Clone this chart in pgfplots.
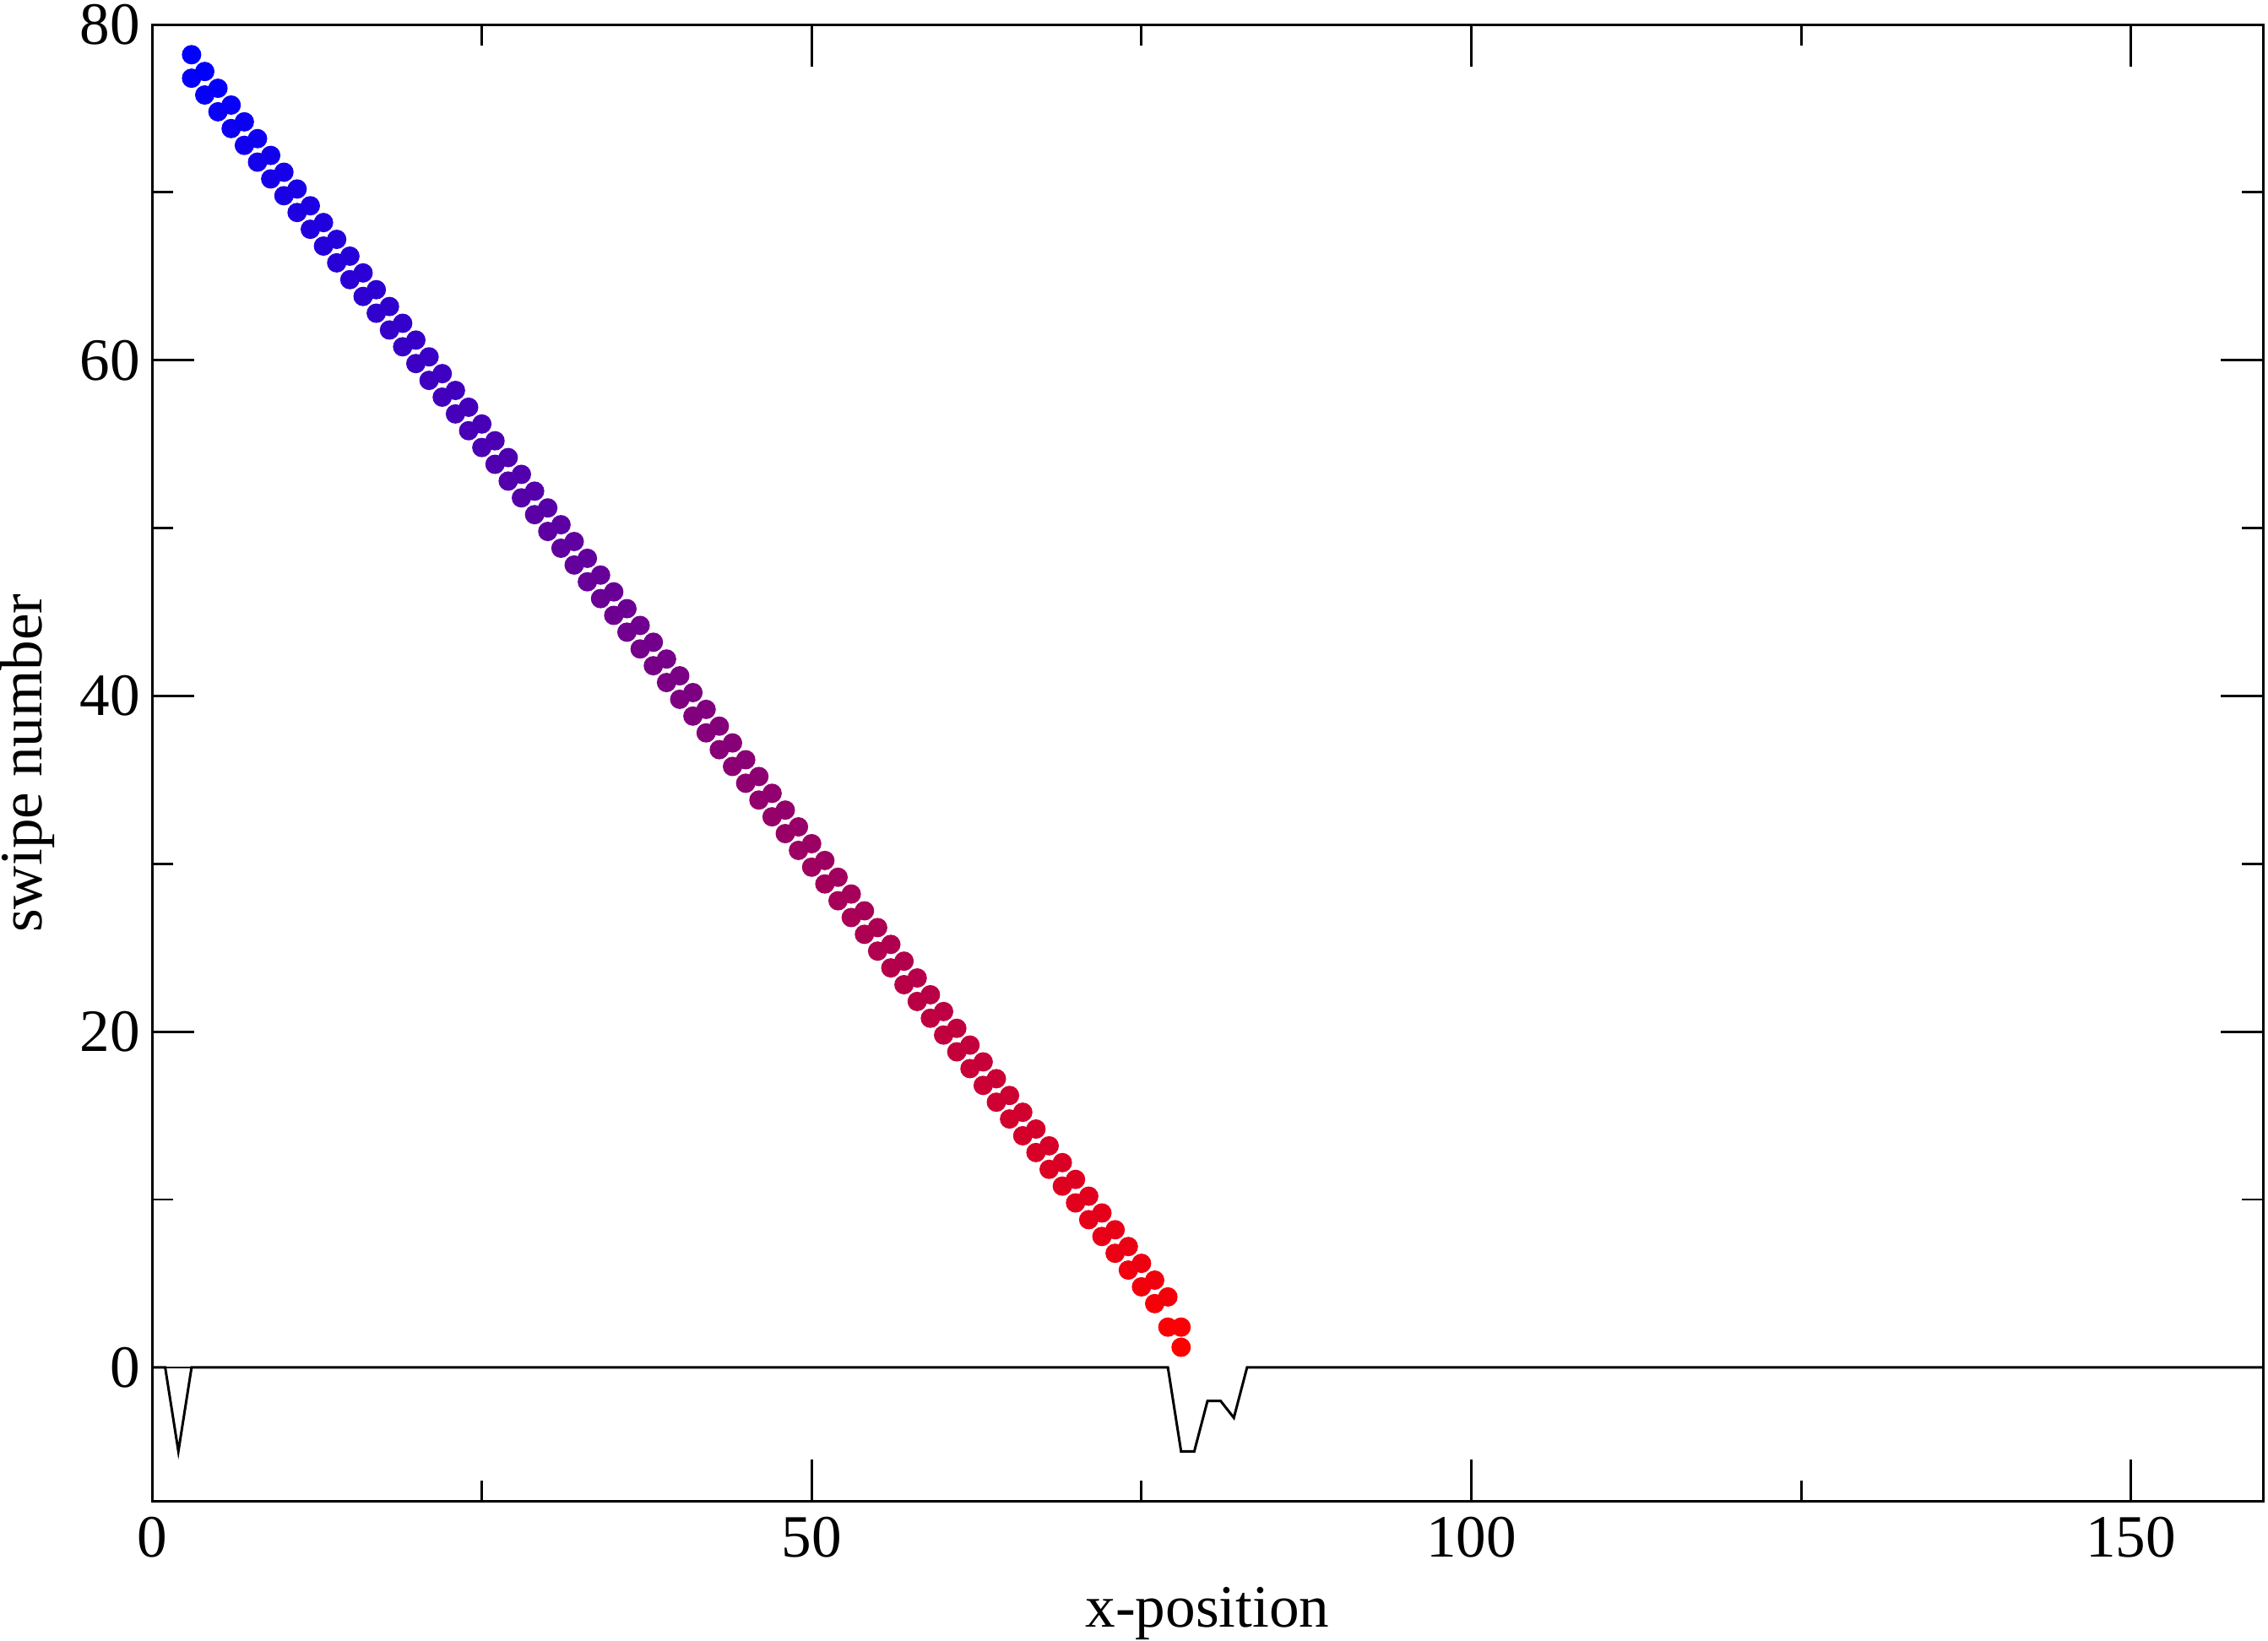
\documentclass[border=0pt]{standalone}
\usepackage{fontspec}
\setmainfont{Liberation Serif}
\usepackage{pgfplots}
\usepackage{pgfplotstable}
\pgfplotsset{compat=1.18}

% swipe data: two points per x column
\pgfplotstableread{
x y
3 78.2
3 76.8
4 77.2
4 75.8
5 76.2
5 74.8
6 75.2
6 73.8
7 74.2
7 72.8
8 73.2
8 71.8
9 72.2
9 70.8
10 71.2
10 69.8
11 70.2
11 68.8
12 69.2
12 67.8
13 68.2
13 66.8
14 67.2
14 65.8
15 66.2
15 64.8
16 65.2
16 63.8
17 64.2
17 62.8
18 63.2
18 61.8
19 62.2
19 60.8
20 61.2
20 59.8
21 60.2
21 58.8
22 59.2
22 57.8
23 58.2
23 56.8
24 57.2
24 55.8
25 56.2
25 54.8
26 55.2
26 53.8
27 54.2
27 52.8
28 53.2
28 51.8
29 52.2
29 50.8
30 51.2
30 49.8
31 50.2
31 48.8
32 49.2
32 47.8
33 48.2
33 46.8
34 47.2
34 45.8
35 46.2
35 44.8
36 45.2
36 43.8
37 44.2
37 42.8
38 43.2
38 41.8
39 42.2
39 40.8
40 41.2
40 39.8
41 40.2
41 38.8
42 39.2
42 37.8
43 38.2
43 36.8
44 37.2
44 35.8
45 36.2
45 34.8
46 35.2
46 33.8
47 34.2
47 32.8
48 33.2
48 31.8
49 32.2
49 30.8
50 31.2
50 29.8
51 30.2
51 28.8
52 29.2
52 27.8
53 28.2
53 26.8
54 27.2
54 25.8
55 26.2
55 24.8
56 25.2
56 23.8
57 24.2
57 22.8
58 23.2
58 21.8
59 22.2
59 20.8
60 21.2
60 19.8
61 20.2
61 18.8
62 19.2
62 17.8
63 18.2
63 16.8
64 17.2
64 15.8
65 16.2
65 14.8
66 15.2
66 13.8
67 14.2
67 12.8
68 13.2
68 11.8
69 12.2
69 10.8
70 11.2
70 9.8
71 10.2
71 8.8
72 9.2
72 7.8
73 8.2
73 6.8
74 7.2
74 5.8
75 6.2
75 4.8
76 5.2
76 3.8
77 4.2
77 2.4
78 2.4
78 1.2
}\swipes

\begin{document}
\begin{tikzpicture}
\useasboundingbox (-45pt,-41.25pt) rectangle (626.5pt,444.75pt);
\begin{axis}[
    at={(0,0)}, anchor=south west,
    scale only axis,
    width=625pt, height=437.5pt,
    xmin=0, xmax=160, ymin=-8, ymax=80,
    xtick={0,50,100,150}, minor xtick={25,75,125},
    ytick={0,20,40,60,80}, minor ytick={10,30,50,70},
    tick align=inside,
    major tick length=12.5pt, minor tick length=6.25pt,
    axis line style={line width=0.75pt},
    every tick/.style={black, line width=0.7pt},
    /pgf/number format/assume math mode=true,
    tick label style={font=\fontsize{17.8}{21}\selectfont},
    xticklabel style={yshift=-1.1pt},
    label style={font=\fontsize{17.8}{21}\selectfont},
    xlabel={x-position},
    ylabel={swipe number},
    xlabel style={at={(axis description cs:0.5,-0.0851)}, anchor=base},
    ylabel style={at={(axis description cs:-0.052,0.5)}, anchor=base, rotate=0},
    colormap={redblue}{rgb255(0cm)=(255,0,0); rgb255(1cm)=(0,0,255)},
    point meta min=1.2, point meta max=78.2,
]
\addplot[black, line width=0.75pt, mark=none] coordinates {
    (0,0) (1,0) (2,-5) (3,0) (77,0) (78,-5) (79,-5) (80,-2) (81,-2) (82,-3) (83,0) (160,0)
};
\addplot[scatter, only marks, mark=*, mark size=2.67pt,
    scatter src=explicit,
    scatter/use mapped color={draw=mapped color, fill=mapped color}]
    table[x=x, y=y, meta=y] {\swipes};
\end{axis}
\end{tikzpicture}
\end{document}
